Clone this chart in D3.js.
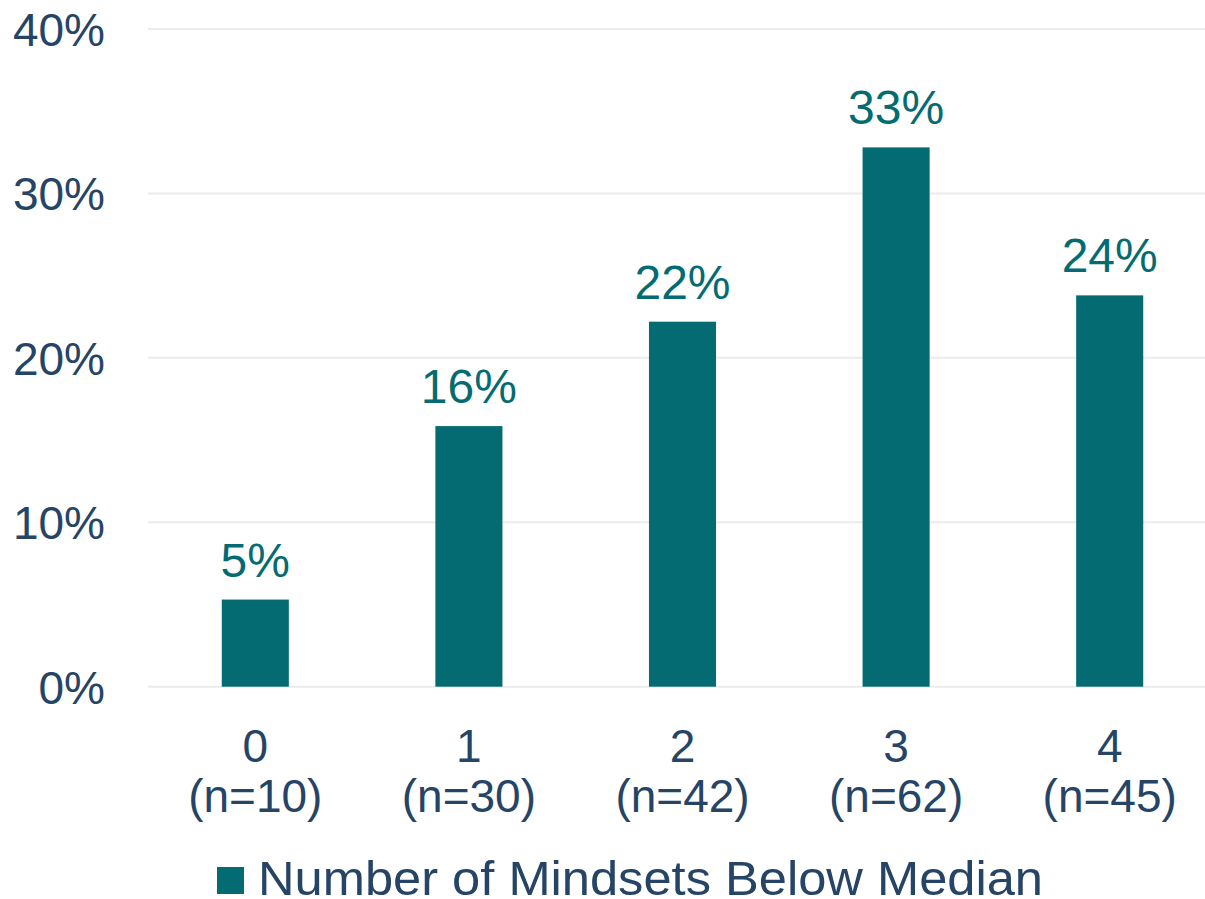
<!DOCTYPE html>
<meta charset="utf-8">
<title>Number of Mindsets Below Median</title>
<style>
    body { margin: 0; background: #fff; }
    text { font-family: "Liberation Sans", Arial, sans-serif; }
</style>
<body>
<script src="https://d3js.org/d3.v7.min.js"></script>
<script>
    /* Data */
    var categories = ["0", "1", "2", "3", "4"];
    var counts = ["(n=10)", "(n=30)", "(n=42)", "(n=62)", "(n=45)"];
    var values = [5.3, 15.85, 22.2, 32.8, 23.8];
    var valueLabels = ["5%", "16%", "22%", "33%", "24%"];
    var yTicks = [0, 10, 20, 30, 40];
    var seriesName = "Number of Mindsets Below Median";

    /* Layout */
    var width = 1205, height = 899;
    var barColor = "#056b73", axisColor = "#264466", gridColor = "#ebebeb";

    var svg = d3.select("body").append("svg")
        .attr("width", width)
        .attr("height", height);

    var x = d3.scaleBand()
        .domain(categories)
        .range([148.5, 1216.5])
        .paddingInner(0.686)
        .paddingOuter(0.343);

    var y = d3.scaleLinear()
        .domain([0, 40])
        .range([686.7, 29]);

    // gridlines
    svg.append("g")
        .selectAll("line")
        .data(yTicks)
        .enter()
        .append("line")
        .attr("x1", 148)
        .attr("x2", width)
        .attr("y1", d => y(d))
        .attr("y2", d => y(d))
        .attr("stroke", gridColor)
        .attr("stroke-width", 2);

    // y axis labels
    var yAxis = d3.axisLeft(y)
        .tickValues(yTicks)
        .tickFormat(d => d + "%")
        .tickSize(0)
        .tickPadding(0);

    var gy = svg.append("g")
        .attr("transform", "translate(105,0)")
        .call(yAxis);
    gy.select(".domain").remove();
    gy.selectAll("text")
        .attr("fill", axisColor)
        .attr("font-size", 46)
        .attr("font-family", "Liberation Sans, Arial, sans-serif")
        .attr("dy", "0.36em");

    // bars
    svg.append("g")
        .selectAll("rect")
        .data(values)
        .enter()
        .append("rect")
        .attr("x", (d, i) => x(categories[i]))
        .attr("y", d => y(d))
        .attr("width", x.bandwidth())
        .attr("height", d => y(0) - y(d))
        .attr("fill", barColor);

    // value labels
    svg.append("g")
        .selectAll("text")
        .data(values)
        .enter()
        .append("text")
        .attr("x", (d, i) => x(categories[i]) + x.bandwidth() / 2)
        .attr("y", d => y(d) - 23)
        .attr("text-anchor", "middle")
        .attr("font-size", 48)
        .attr("fill", barColor)
        .text((d, i) => valueLabels[i]);

    // x axis labels (two lines)
    var xAxis = d3.axisBottom(x).tickSize(0).tickPadding(0);
    var gx = svg.append("g")
        .attr("transform", "translate(0," + y(0) + ")")
        .call(xAxis);
    gx.select(".domain").remove();
    gx.selectAll("text").remove();
    gx.selectAll(".tick").each(function (d, i) {
        var t = d3.select(this).append("text")
            .attr("text-anchor", "middle")
            .attr("fill", axisColor)
            .attr("font-size", 46)
            .attr("font-family", "Liberation Sans, Arial, sans-serif");
        t.append("tspan").attr("x", 0).attr("y", 75).text(d);
        t.append("tspan").attr("x", 0).attr("y", 125).text(counts[i]);
    });

    // legend
    var legend = svg.append("g");
    legend.append("rect")
        .attr("x", 217)
        .attr("y", 867)
        .attr("width", 27)
        .attr("height", 27)
        .attr("fill", barColor);
    legend.append("text")
        .attr("x", 258)
        .attr("y", 895)
        .attr("font-size", 48)
        .attr("fill", axisColor)
        .attr("textLength", 785)
        .attr("lengthAdjust", "spacingAndGlyphs")
        .text(seriesName);
</script>
</body>
